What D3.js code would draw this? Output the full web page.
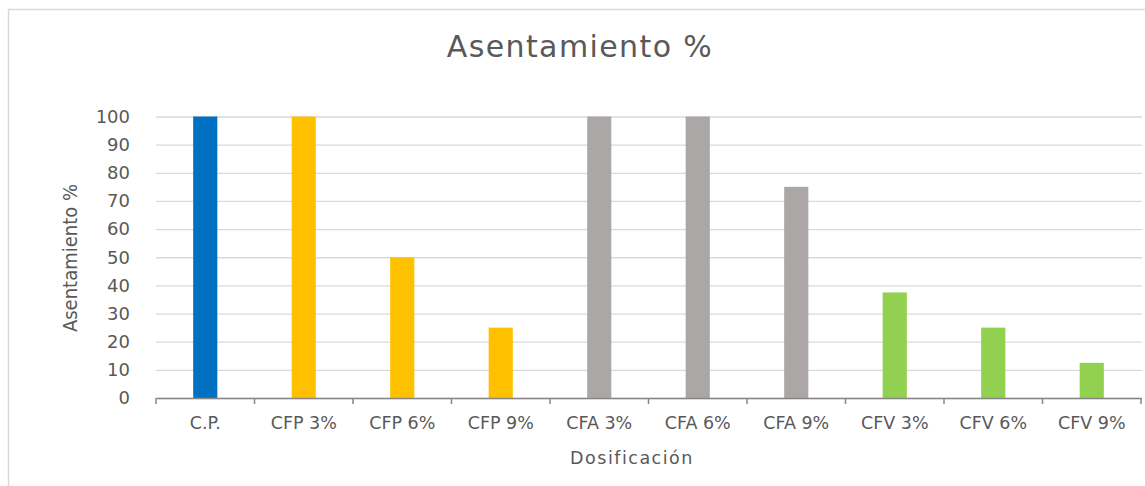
<!DOCTYPE html>
<html>
<head>
<meta charset="utf-8">
<script src="https://cdn.jsdelivr.net/npm/d3@7"></script>
<style>
  body { margin: 0; background: #fff; }
  svg { display: block; }
</style>
</head>
<body>
<svg width="1145" height="486"></svg>
<script>
let categories = ['C.P.', 'CFP 3%', 'CFP 6%', 'CFP 9%', 'CFA 3%', 'CFA 6%', 'CFA 9%', 'CFV 3%', 'CFV 6%', 'CFV 9%'];
let values = [100, 100, 50, 25, 100, 100, 75, 37.5, 25, 12.5];
let groups = ['CP', 'CFP', 'CFP', 'CFP', 'CFA', 'CFA', 'CFA', 'CFV', 'CFV', 'CFV'];
let yTicks = [0, 10, 20, 30, 40, 50, 60, 70, 80, 90, 100];

let colors = { CP: '#0070c0', CFP: '#ffc000', CFA: '#aba7a7', CFV: '#92d050' };

let svg = d3.select('svg');

// chart frame (right and bottom edges fall outside the window)
svg.append('rect')
    .attr('x', 8.5).attr('y', 9.5)
    .attr('width', 1200).attr('height', 600)
    .attr('fill', '#fff')
    .attr('stroke', '#d9d9d9')
    .attr('stroke-width', 1.5);

let plotL = 156, plotR = 1141, plotT = 116.5, plotB = 398;

let x = d3.scaleBand().domain(categories).range([plotL, plotR]).padding(0);
let y = d3.scaleLinear().domain([0, 100]).range([plotB, plotT]);

// gridlines + y labels
let yAxis = svg.append('g')
    .attr('transform', `translate(${plotL},0)`)
    .call(d3.axisLeft(y).tickValues(yTicks).tickSize(-(plotR - plotL + 1)).tickPadding(26));
yAxis.select('.domain').remove();
yAxis.selectAll('.tick line').attr('stroke', '#d9d9d9').attr('stroke-width', 1.3);
yAxis.selectAll('.tick text')
    .attr('fill', '#595959')
    .style('font-family', 'DejaVu Sans')
    .style('font-size', '18px');

// bars
let barW = x.bandwidth() * 0.245;
svg.append('g').selectAll('rect')
    .data(categories)
    .join('rect')
    .attr('x', (d) => x(d) + x.bandwidth() / 2 - barW / 2)
    .attr('y', (d, i) => y(values[i]))
    .attr('width', barW)
    .attr('height', (d, i) => y(0) - y(values[i]))
    .attr('fill', (d, i) => colors[groups[i]]);

// x axis line, labels and boundary ticks
let xAxis = svg.append('g')
    .attr('transform', `translate(0,${plotB})`)
    .call(d3.axisBottom(x).tickSize(0).tickPadding(19));
xAxis.select('.domain').attr('stroke', '#868686').attr('stroke-width', 1.5);
xAxis.selectAll('.tick text')
    .attr('fill', '#595959')
    .style('font-family', 'DejaVu Sans')
    .style('font-size', '17.5px');

let bounds = categories.map((d) => x(d)).concat([plotR]);
svg.append('g').selectAll('line')
    .data(bounds)
    .join('line')
    .attr('x1', (d) => d).attr('x2', (d) => d)
    .attr('y1', plotB).attr('y2', plotB + 6)
    .attr('stroke', '#868686')
    .attr('stroke-width', 1.5);

// titles
svg.append('text')
    .attr('x', 580).attr('y', 57)
    .attr('text-anchor', 'middle')
    .attr('fill', '#595959')
    .style('font-family', 'DejaVu Sans')
    .style('font-size', '30px')
    .style('letter-spacing', '1.4px')
    .text('Asentamiento %');

svg.append('text')
    .attr('x', 632).attr('y', 463.5)
    .attr('text-anchor', 'middle')
    .attr('fill', '#595959')
    .style('font-family', 'DejaVu Sans')
    .style('font-size', '17.5px')
    .style('letter-spacing', '1.5px')
    .text('Dosificación');

svg.append('text')
    .attr('transform', 'translate(77,258) rotate(-90)')
    .attr('text-anchor', 'middle')
    .attr('fill', '#595959')
    .style('font-family', 'DejaVu Sans Condensed, DejaVu Sans')
    .style('font-size', '20px')
    .text('Asentamiento %');
</script>
</body>
</html>
